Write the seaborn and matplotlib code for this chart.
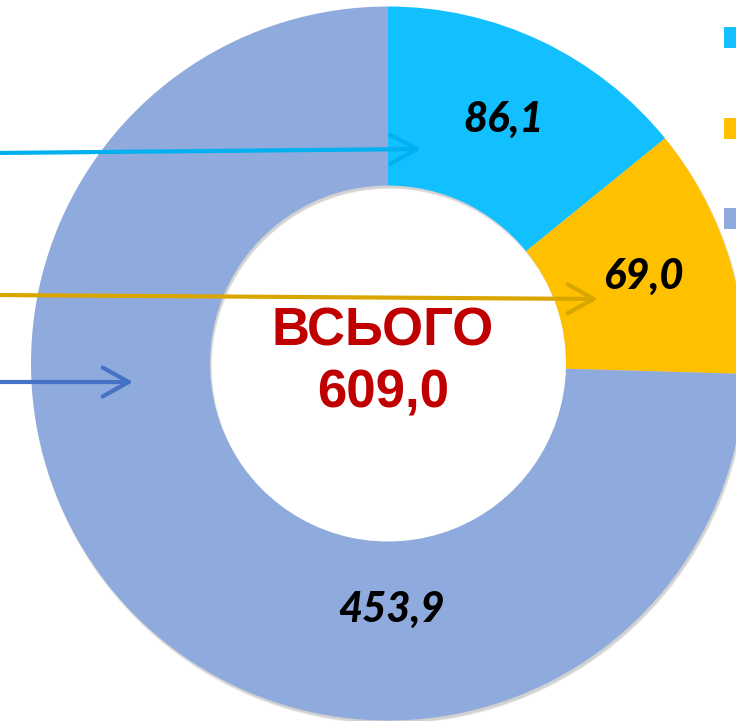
import matplotlib.pyplot as plt
import numpy as np
import seaborn as sns
from matplotlib.patches import Rectangle

sns.set_theme(style="white")
plt.rcParams["font.family"] = ["Liberation Sans", "DejaVu Sans"]

# дані
values = [86.1, 69.0, 453.9]
labels = ["86,1", "69,0", "453,9"]
total_title = "ВСЬОГО"
total_value = "609,0"
colors = ["#12BFFF", "#FFC000", "#8FAADC"]
arrow_colors = ["#00B0F0", "#D9A600", "#4472C4"]

W, H = 736, 721
CX, CY = 388, H - 363.5
R = 357
HOLE = 178

fig = plt.figure(figsize=(W / 100, H / 100), dpi=100)
ax = fig.add_axes([0, 0, 1, 1])

# легка тінь під кільцем
for k, a in enumerate([0.07, 0.10, 0.14]):
    ax.pie(
        [1], colors=["#606060"], radius=R + 1 - k * 0.7, center=(CX + 1.5, CY - 3),
        wedgeprops=dict(width=R - HOLE, alpha=a, linewidth=0),
    )

wedges, _ = ax.pie(
    values, colors=colors, radius=R, center=(CX, CY), startangle=90,
    counterclock=False, wedgeprops=dict(width=R - HOLE, linewidth=0),
)

# підписи значень
label_font = dict(family=["Lato", "DejaVu Sans"], weight=900, style="italic",
                  fontsize=30, color="black", ha="center", va="center")
for i, (w, lab) in enumerate(zip(wedges, labels)):
    if i == len(wedges) - 1:
        ang, rr = -89.3, 0.69 * R
    else:
        ang, rr = (w.theta1 + w.theta2) / 2, 0.755 * R
    ax.text(CX + rr * np.cos(np.radians(ang)), CY + rr * np.sin(np.radians(ang)),
            lab, **label_font)

# центр
ax.text(CX - 5, H - 332, total_title, color="#C00000", fontsize=38,
        fontweight="bold", ha="center", va="center")
ax.text(CX - 5, H - 394, total_value, color="#C00000", fontsize=38,
        fontweight="bold", ha="center", va="center")

# стрілки зліва
arrow_tips = [(421, 149), (598, 299), (133, 382)]
arrow_starts = [(-5, 153), (-5, 295), (-5, 382)]
for (tx, ty), (sx, sy), c in zip(arrow_tips, arrow_starts, arrow_colors):
    ax.annotate("", xy=(tx, H - ty), xytext=(sx, H - sy),
                arrowprops=dict(arrowstyle="->,head_length=0.36,head_width=0.2",
                                color=c, lw=3, mutation_scale=52,
                                shrinkA=0, shrinkB=0,
                                capstyle="round", joinstyle="round"))

# маркери легенди (підписи обрізані)
for i, c in enumerate(colors):
    ax.add_patch(Rectangle((724, H - 48 - i * 90.5), 20, 21, color=c, lw=0))

ax.set_xlim(0, W)
ax.set_ylim(0, H)
ax.set_aspect("auto")
ax.axis("off")

plt.savefig("out.png", dpi=100)
plt.close()
